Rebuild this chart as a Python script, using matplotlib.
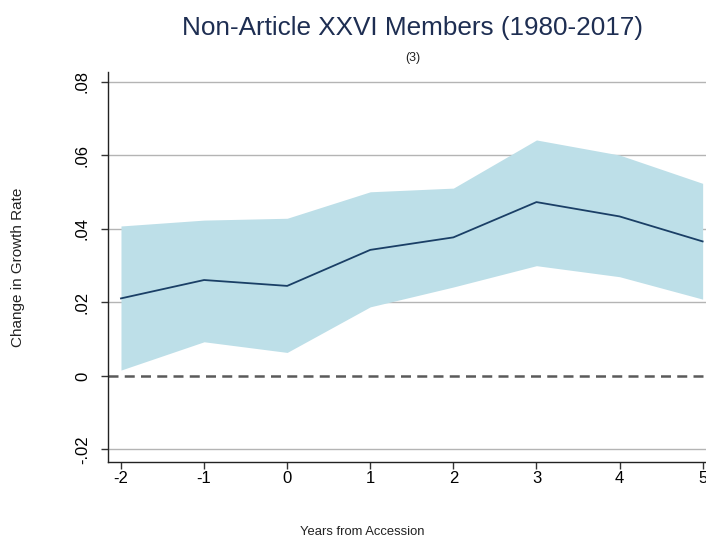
import numpy as np
import matplotlib
matplotlib.use('Agg')
import matplotlib.pyplot as plt

plt.rcParams['font.family'] = ['Liberation Sans', 'DejaVu Sans']

# event-time estimates with confidence band
years = [-2, -1, 0, 1, 2, 3, 4, 5]
coef = [0.0211, 0.0261, 0.0245, 0.0343, 0.0377, 0.0473, 0.0434, 0.0366]
upper = [0.0408, 0.0424, 0.0429, 0.0501, 0.0511, 0.0642, 0.0601, 0.0524]
lower = [0.0016, 0.0093, 0.0064, 0.0188, 0.0242, 0.0300, 0.0270, 0.0209]
yticks = [-0.02, 0, 0.02, 0.04, 0.06, 0.08]
ylabels = ['-.02', '0', '.02', '.04', '.06', '.08']

fig = plt.figure(figsize=(7.06, 5.39), dpi=100)
ax = fig.add_axes([0.153, 0.1429, 0.8606, 0.7236])

for t in yticks:
    if t != 0:
        ax.axhline(t, color='#b4b4b4', lw=1.0, zorder=0)

ax.fill_between(years, lower, upper, color='#bddfe8', lw=0, zorder=1)
ax.plot(years, coef, color='#1a3f66', lw=1.3, zorder=3)
ax.axhline(0, color='#5a5a5a', lw=1.8, ls=(0, (4, 2.5)), zorder=2)

ax.set_xlim(-2.156, 5.156)
ax.set_ylim(-0.0234, 0.0827)
ax.set_xticks(years)
ax.set_xticklabels([str(y) for y in years], fontsize=12)
ax.set_yticks(yticks)
ax.set_yticklabels(ylabels, fontsize=12, rotation=90, va='center')
ax.tick_params(direction='out', length=5, width=1, color='#333333')
ax.tick_params(axis='x', pad=1.5)
ax.tick_params(axis='y', pad=8)
for s in ['top', 'right']:
    ax.spines[s].set_visible(False)
for s in ['left', 'bottom']:
    ax.spines[s].set_color('#222222')
    ax.spines[s].set_linewidth(1.0)

fig.text(412 / 706, 1 - 28 / 539, 'Non-Article XXVI Members (1980-2017)',
         ha='center', va='center', fontsize=18.8, color='#1e2e52')
fig.text(413 / 706, 1 - 58 / 539, '(3)', ha='center', va='center', fontsize=9,
         color='#222222')
fig.text(18 / 706, 1 - 267 / 539, 'Change in Growth Rate', rotation=90,
         ha='center', va='center', fontsize=11, color='#222222')
fig.text(362 / 706, 1 - 532 / 539, 'Years from Accession',
         ha='center', va='center', fontsize=9.4, color='#222222')

fig.savefig('out.png', dpi=100, facecolor='white')
